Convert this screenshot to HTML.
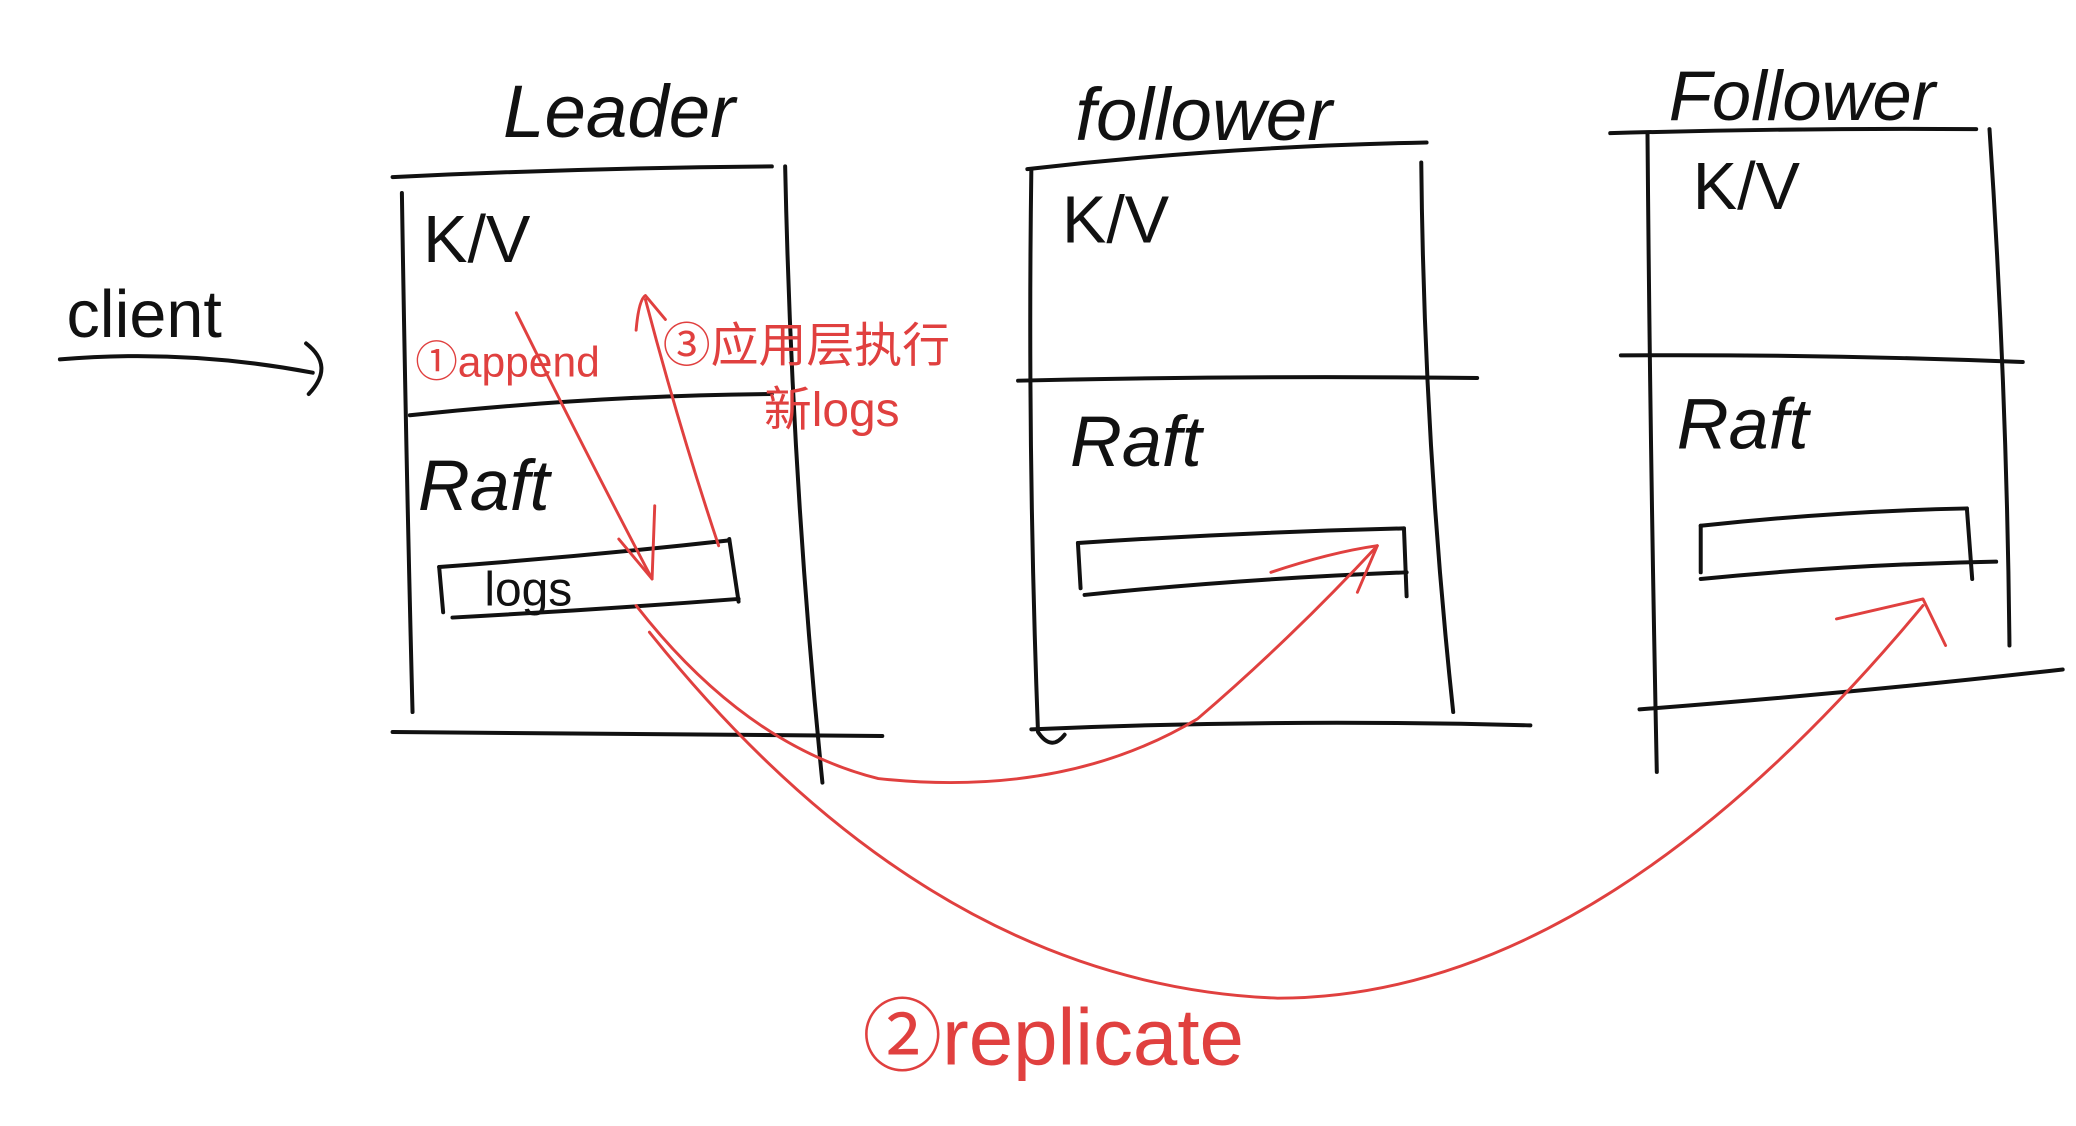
<!DOCTYPE html>
<html><head><meta charset="utf-8"><style>
html,body{margin:0;padding:0;background:#fff;width:2076px;height:1126px;overflow:hidden}
svg{display:block}
.k{fill:none;stroke:#111;stroke-width:3;stroke-linecap:round;stroke-linejoin:round}
.r{fill:none;stroke:#e0403f;stroke-width:2.2;stroke-linecap:round;stroke-linejoin:round}
.t{font-family:"Liberation Sans","Noto Sans CJK SC",sans-serif;fill:#111;font-weight:300}
.rt{font-family:"Liberation Sans","Noto Sans CJK SC",sans-serif;fill:#e0403f}
</style></head><body>
<svg width="2076" height="1126" viewBox="0 0 1560 846" xmlns="http://www.w3.org/2000/svg">
<rect width="1560" height="846" fill="#fff"/>
<!-- titles -->
<text class="t" x="378" y="103" font-size="56" font-style="italic">Leader</text>
<text class="t" x="808" y="105" font-size="56" font-style="italic">follower</text>
<text class="t" x="1254" y="90" font-size="53" font-style="italic">Follower</text>
<!-- client -->
<text class="t" x="50" y="253" font-size="50">client</text>
<path class="k" d="M45 270 Q140 262 235 280"/>
<path class="k" d="M230 258 Q252 275 232 296"/>
<!-- Leader box -->
<path class="k" d="M295 133 Q440 126 580 125"/>
<path class="k" d="M302 145 Q305 340 310 535"/>
<path class="k" d="M590 125 Q595 360 618 588"/>
<path class="k" d="M295 550 Q480 552 663 553"/>
<path class="k" d="M308 312 Q450 297 580 296"/>
<text class="t" x="318" y="197" font-size="50">K/V</text>
<text class="t" x="314" y="383" font-size="54" font-style="italic">Raft</text>
<path class="k" d="M330 426 Q440 418 548 406"/>
<path class="k" d="M340 464 Q450 458 555 450"/>
<path class="k" d="M330 426 L333 460"/>
<path class="k" d="M548 405 L555 452"/>
<text class="t" x="364" y="455" font-size="36">logs</text>
<!-- Follower1 -->
<path class="k" d="M772 127 Q920 110 1072 107"/>
<path class="k" d="M775 127 Q772 340 780 550 Q790 565 800 552"/>
<path class="k" d="M1068 122 Q1070 330 1092 535"/>
<path class="k" d="M775 548 Q960 540 1150 545"/>
<path class="k" d="M765 286 Q940 282 1110 284"/>
<text class="t" x="798" y="182" font-size="50">K/V</text>
<text class="t" x="804" y="350" font-size="54" font-style="italic">Raft</text>
<path class="k" d="M810 408 Q930 400 1055 397"/>
<path class="k" d="M815 447 Q930 435 1057 430"/>
<path class="k" d="M810 408 L812 442"/>
<path class="k" d="M1055 397 L1057 448"/>
<!-- Follower2 -->
<path class="k" d="M1210 100 Q1350 96 1485 97"/>
<path class="k" d="M1238 100 Q1240 340 1245 580"/>
<path class="k" d="M1495 97 Q1508 290 1510 485"/>
<path class="k" d="M1218 267 Q1370 266 1520 272"/>
<path class="k" d="M1232 533 Q1400 520 1550 503"/>
<text class="t" x="1272" y="157" font-size="50">K/V</text>
<text class="t" x="1260" y="337" font-size="54" font-style="italic">Raft</text>
<path class="k" d="M1278 395 Q1380 384 1478 382"/>
<path class="k" d="M1278 435 Q1390 424 1500 422"/>
<path class="k" d="M1278 395 L1278 430"/>
<path class="k" d="M1478 382 L1482 435"/>
<!-- red annotations -->
<text class="rt" x="312" y="283" font-size="32">①append</text>
<text class="rt" x="498" y="272" font-size="36">③应用层执行</text>
<text class="rt" x="574" y="320" font-size="36">新logs</text>
<path class="r" d="M388 235 Q440 340 490 435"/>
<path class="r" d="M465 405 L490 435 L492 380"/>
<path class="r" d="M478 248 Q480 225 485 222 L500 240"/>
<path class="r" d="M485 225 Q510 320 540 410"/>
<path class="r" d="M478 455 Q560 560 660 585 Q800 600 900 540 Q970 480 1035 410"/>
<path class="r" d="M955 430 Q1000 415 1035 410 L1020 445"/>
<path class="r" d="M488 475 Q700 740 960 750 Q1200 750 1445 455"/>
<path class="r" d="M1380 465 L1445 450 L1462 485"/>
<text class="rt" x="648" y="800" font-size="60">②replicate</text>
</svg>
</body></html>
